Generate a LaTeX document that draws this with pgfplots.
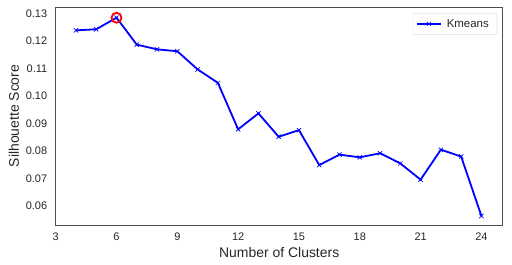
\documentclass[border=0pt]{standalone}
\usepackage{fontspec}
\setmainfont{Liberation Sans}
\usepackage{pgfplots}
\pgfplotsset{compat=1.18}
\definecolor{txt}{HTML}{262626}
\definecolor{frame}{HTML}{4D4D4D}
\pgfplotstableread{
k s
4 0.1238
5 0.1242
6 0.1284
7 0.1186
8 0.1169
9 0.1162
10 0.1096
11 0.1047
12 0.0878
13 0.0936
14 0.0851
15 0.0875
16 0.0748
17 0.0786
18 0.0776
19 0.0791
20 0.0754
21 0.0695
22 0.0804
23 0.0779
24 0.0563
}\kmeans
\begin{document}
\begin{tikzpicture}
\begin{axis}[
 scale only axis, width=447bp, height=218bp,
 xmin=3, xmax=25.05, ymin=0.0530, ymax=0.1323,
 xtick={3,6,9,12,15,18,21,24},
 ytick={0.06,0.07,0.08,0.09,0.10,0.11,0.12,0.13},
 yticklabel style={/pgf/number format/fixed, /pgf/number format/precision=2, /pgf/number format/fixed zerofill, xshift=-5bp},
 xticklabel style={yshift=-4bp},
 major tick length=0pt,
 axis line style={color=frame, line width=0.9bp},
 /pgf/number format/assume math mode=true,
 ticklabel style={font=\fontsize{11}{13}\selectfont, color=txt},
 xlabel={Number of Clusters}, ylabel={Silhouette Score},
 label style={font=\fontsize{14}{16}\selectfont, color=txt},
 legend style={at={(1,1)}, xshift=-5.7bp, yshift=-6bp, anchor=north east, draw=gray!30, rounded corners=2bp, font=\fontsize{11.5}{13}\selectfont, text=txt, inner xsep=3bp, inner ysep=4bp, nodes={inner xsep=5bp}},
 legend image code/.code={\draw[mark repeat=2,mark phase=2,#1] plot coordinates {(0bp,0bp)(12bp,0bp)(24bp,0bp)};},
 legend cell align=left,
]
\addplot[blue, line width=1.8bp, mark=x, mark size=3bp, mark options={line width=0.7bp}] table[x=k, y=s] {\kmeans};
\addlegendentry{Kmeans}
\addplot[red, only marks, mark=o, mark size=5bp, line width=1.8bp, forget plot] coordinates {(6,0.1284)};
\end{axis}
\pgfresetboundingbox
\useasboundingbox (current axis.south west) ++(-55.7bp,-40bp) rectangle ([shift={(9.3bp,7bp)}]current axis.north east);
\end{tikzpicture}
\end{document}
